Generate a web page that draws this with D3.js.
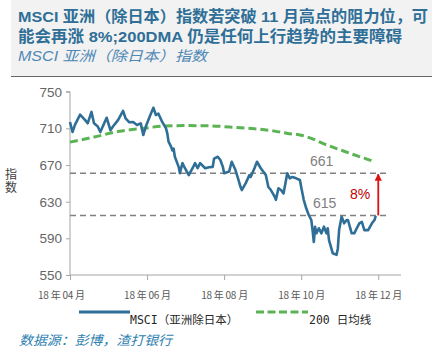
<!DOCTYPE html>
<html>
<head>
<meta charset="utf-8">
<script src="https://cdn.jsdelivr.net/npm/d3@7"></script>
<style>
  body { margin: 0; background: #fff; }
  svg { display: block; font-family: "Liberation Sans", Arial, "Noto Sans CJK SC", sans-serif; }
</style>
</head>
<body>
<div id="vis"></div>
<script>
// ── DATA ──────────────────────────────────────────────────────────────────────
const msciDates = [
  "04-01","04-03","04-05","04-09","04-13","04-15","04-18","04-20","04-23","04-25",
  "04-30","05-03","05-05","05-09","05-13","05-15","05-18","05-21","05-24","05-27",
  "05-29","05-31","06-04","06-06","06-08","06-10","06-13","06-16","06-17","06-18",
  "06-20","06-21","06-22","06-23","06-26","06-27","06-29","07-01","07-04","07-07",
  "07-09","07-11","07-13","07-17","07-20","07-23","07-24","07-27","07-29","07-31",
  "08-01","08-05","08-07","08-10","08-12","08-14","08-15","08-18","08-21","08-22",
  "08-25","08-27","08-30","09-03","09-05","09-07","09-10","09-11","09-13","09-15",
  "09-17","09-19","09-20","09-22","09-24","09-27","09-30","10-01","10-03","10-05",
  "10-07","10-09","10-10","10-11","10-12","10-13","10-15","10-17","10-19","10-21",
  "10-22","10-23","10-26","10-29","10-30","10-31","11-02","11-04","11-06","11-07",
  "11-10","11-12","11-14","11-16","11-18","11-20","11-23","11-26","11-28","11-29"
];
const msciValues = [
  717, 706, 714, 725, 719, 715.5, 728, 715.5, 712, 706,
  721.6, 708, 712, 719, 729, 721, 716.6, 717, 713.7, 715.5,
  702.7, 712, 726, 732.5, 724.6, 726, 717, 710, 704.6, 695.5,
  690, 686, 688, 679, 668, 661, 672, 666.5, 659, 666.5,
  672, 666.5, 672, 666.5, 667.5, 668, 677, 679, 675.5, 668,
  661, 663, 673.6, 664.5, 655.5, 646, 642.7, 650, 659, 657,
  666.5, 673.6, 666.5, 659, 646, 642.7, 635.4, 632, 644.6, 642.7,
  639, 653.6, 661, 655.5, 657, 655.5, 653.6, 646, 632, 622.8,
  615.5, 610, 599, 586, 602.7, 595.5, 601, 595.5, 602.7, 595.5,
  601, 588, 573.7, 572, 579, 599, 613.6, 606.4, 610, 610,
  595.5, 595.5, 601, 606.4, 608, 599, 599, 606.4, 610, 614.5
];
const maDates  = ["04-01","04-20","05-10","06-01","06-15","07-01","07-20","08-05","08-25",
                  "09-10","09-20","10-01","10-10","10-20","11-01","11-10","11-20","11-28"];
const maValues = [695, 700.5, 706.8, 710.5, 712.7, 713, 712.8, 711.5, 709.6,
                  707, 704.5, 702.5, 698.5, 692.5, 686.5, 682, 677.5, 673.5];

const yTicks = [550, 590, 630, 670, 710, 750];
const xTicks = ["04-01","06-01","08-01","10-01","12-01"];
const xTickLabels = ["18 年 04 月","18 年 06 月","18 年 08 月","18 年 10 月","18 年 12 月"];
const levels = [661, 615];
const moveLabel = "8%";

const titleLines = ["MSCI 亚洲（除日本）指数若突破 11 月高点的阻力位，可",
                    "能会再涨 8%;200DMA 仍是任何上行趋势的主要障碍"];
const subtitle = "MSCI 亚洲（除日本）指数";
const yLabel = ["指", "数"];
const seriesNames = ["MSCI（亚洲除日本）", "200 日均线"];
const source = "数据源：彭博，渣打银行";

// ── CONFIG ────────────────────────────────────────────────────────────────────
const width = 432, height = 353;
const marginLeft = 70, plotRight = 401, plotTop = 91.7, plotBottom = 275;
const blue = "#2f6f97", green = "#5bb354", grey = "#808080", red = "#e01010";

const parse = s => new Date(2018, +s.slice(0, 2) - 1, +s.slice(3));
const msci = msciDates.map((d, i) => ({ date: parse(d), value: msciValues[i] }));
const ma   = maDates.map((d, i) => ({ date: parse(d), value: maValues[i] }));

const svg = d3.select("#vis").append("svg")
    .attr("width", width)
    .attr("height", height);

// header panel
svg.append("rect").attr("x", 11).attr("y", 0).attr("width", width - 11).attr("height", 76)
    .attr("fill", "#f2f2f2");
svg.append("line").attr("x1", 11).attr("x2", width).attr("y1", 76.5).attr("y2", 76.5)
    .attr("stroke", "#666").attr("stroke-width", 1.2);

const titleW = [410, 384];
titleLines.forEach((t, i) => {
  svg.append("text")
    .attr("x", 18).attr("y", 22 + i * 19.5)
    .attr("textLength", titleW[i]).attr("lengthAdjust", "spacingAndGlyphs")
    .style("font-size", "15.5px").style("font-weight", "bold")
    .attr("fill", "#2f6f97")
    .text(t);
});
svg.append("text")
  .attr("x", 18).attr("y", 61)
  .attr("textLength", 189).attr("lengthAdjust", "spacingAndGlyphs")
  .style("font-size", "14px").style("font-style", "italic")
  .attr("fill", "#4f88b5")
  .text(subtitle);

// ── SCALES ────────────────────────────────────────────────────────────────────
const x = d3.scaleTime()
    .domain([parse("04-01"), parse("12-19")])
    .range([marginLeft, plotRight]);
const y = d3.scaleLinear()
    .domain([550, 750])
    .range([plotBottom, plotTop]);

// axes
const gy = svg.append("g").attr("transform", `translate(${marginLeft},0)`)
  .call(d3.axisLeft(y).tickValues(yTicks).tickSize(4).tickPadding(4));
gy.select(".domain").attr("stroke", "#a6a6a6").attr("d", `M-4,${plotTop}H0V${plotBottom}`);
gy.selectAll(".tick line").attr("stroke", "#a6a6a6");
gy.selectAll(".tick text").attr("fill", "#666").style("font-size", "13.5px")
  .style("font-family", "'Liberation Sans', Arial, sans-serif");

const gx = svg.append("g").attr("transform", `translate(0,${plotBottom})`)
  .call(d3.axisBottom(x).tickValues(xTicks.map(parse)).tickSize(5)
    .tickFormat((d, i) => xTickLabels[i]).tickPadding(12));
gx.select(".domain").attr("stroke", "#a6a6a6").attr("stroke-width", 1.2)
  .attr("d", `M${marginLeft},0H${plotRight}`);
gx.selectAll(".tick line").attr("stroke", "#a6a6a6");
gx.selectAll(".tick text").attr("fill", "#595959").style("font-size", "10px")
  .style("font-family", "'Noto Sans CJK SC', sans-serif")
  .attr("textLength", 47).attr("lengthAdjust", "spacing")
  .attr("dx", (d, i) => i === 0 ? -9 : 0);

// y label stacked
svg.append("text")
  .attr("x", 11).attr("y", 179)
  .attr("text-anchor", "middle")
  .attr("fill", "#404040")
  .style("font-size", "12px")
  .selectAll("tspan").data(yLabel).join("tspan")
    .attr("x", 11).attr("dy", (d, i) => i ? "1.05em" : 0)
    .text(d => d);

// reference levels
svg.append("g").selectAll("line").data(levels).join("line")
  .attr("x1", marginLeft).attr("x2", 390)
  .attr("y1", d => y(d)).attr("y2", d => y(d))
  .attr("stroke", grey).attr("stroke-width", 1.4).attr("stroke-dasharray", "6,4");
svg.append("g").selectAll("text").data(levels).join("text")
  .attr("x", (d, i) => i ? 313 : 310)
  .attr("y", d => y(d) - 7.5)
  .attr("fill", grey)
  .style("font-size", "14px")
  .text(d => d);

// lines
const line = d3.line().x(d => x(d.date)).y(d => y(d.value));
svg.append("path").datum(ma)
  .attr("fill", "none").attr("stroke", green).attr("stroke-width", 3)
  .attr("stroke-dasharray", "8,4").attr("d", line.curve(d3.curveMonotoneX));
svg.append("path").datum(msci)
  .attr("fill", "none").attr("stroke", blue).attr("stroke-width", 2.6)
  .attr("stroke-linejoin", "round").attr("d", line.curve(d3.curveLinear));

// arrow 615 -> 661
const ax = x(parse("12-01"));
svg.append("defs").append("marker")
  .attr("id", "arr").attr("viewBox", "0 0 10 10").attr("refX", 9).attr("refY", 5)
  .attr("markerWidth", 4).attr("markerHeight", 4).attr("orient", "auto")
  .append("path").attr("d", "M0,0L10,5L0,10Z").attr("fill", red);
svg.append("line")
  .attr("x1", ax).attr("x2", ax)
  .attr("y1", y(levels[1])).attr("y2", y(levels[0]) + 1)
  .attr("stroke", red).attr("stroke-width", 1.8)
  .attr("marker-end", "url(#arr)");
svg.append("text")
  .attr("x", 350).attr("y", 199)
  .attr("fill", "#c00000").style("font-size", "14px")
  .text(moveLabel);

// legend
const lg = svg.append("g");
lg.append("line").attr("x1", 79).attr("x2", 130).attr("y1", 312).attr("y2", 312)
  .attr("stroke", blue).attr("stroke-width", 3);
lg.append("line").attr("x1", 256).attr("x2", 308).attr("y1", 312).attr("y2", 312)
  .attr("stroke", green).attr("stroke-width", 3).attr("stroke-dasharray", "8,3.5");
lg.selectAll("text").data(seriesNames).join("text")
  .attr("x", (d, i) => i ? 309 : 130).attr("y", 324)
  .attr("fill", "#262626").style("font-size", "11.5px")
  .style("font-family", "'DejaVu Sans Mono', 'Noto Sans CJK SC', monospace")
  .text(d => d);

// source
svg.append("text")
  .attr("x", 19).attr("y", 345)
  .attr("textLength", 153).attr("lengthAdjust", "spacingAndGlyphs")
  .attr("fill", "#2f7fb0").style("font-size", "13px").style("font-style", "italic")
  .text(source);
</script>
</body>
</html>
